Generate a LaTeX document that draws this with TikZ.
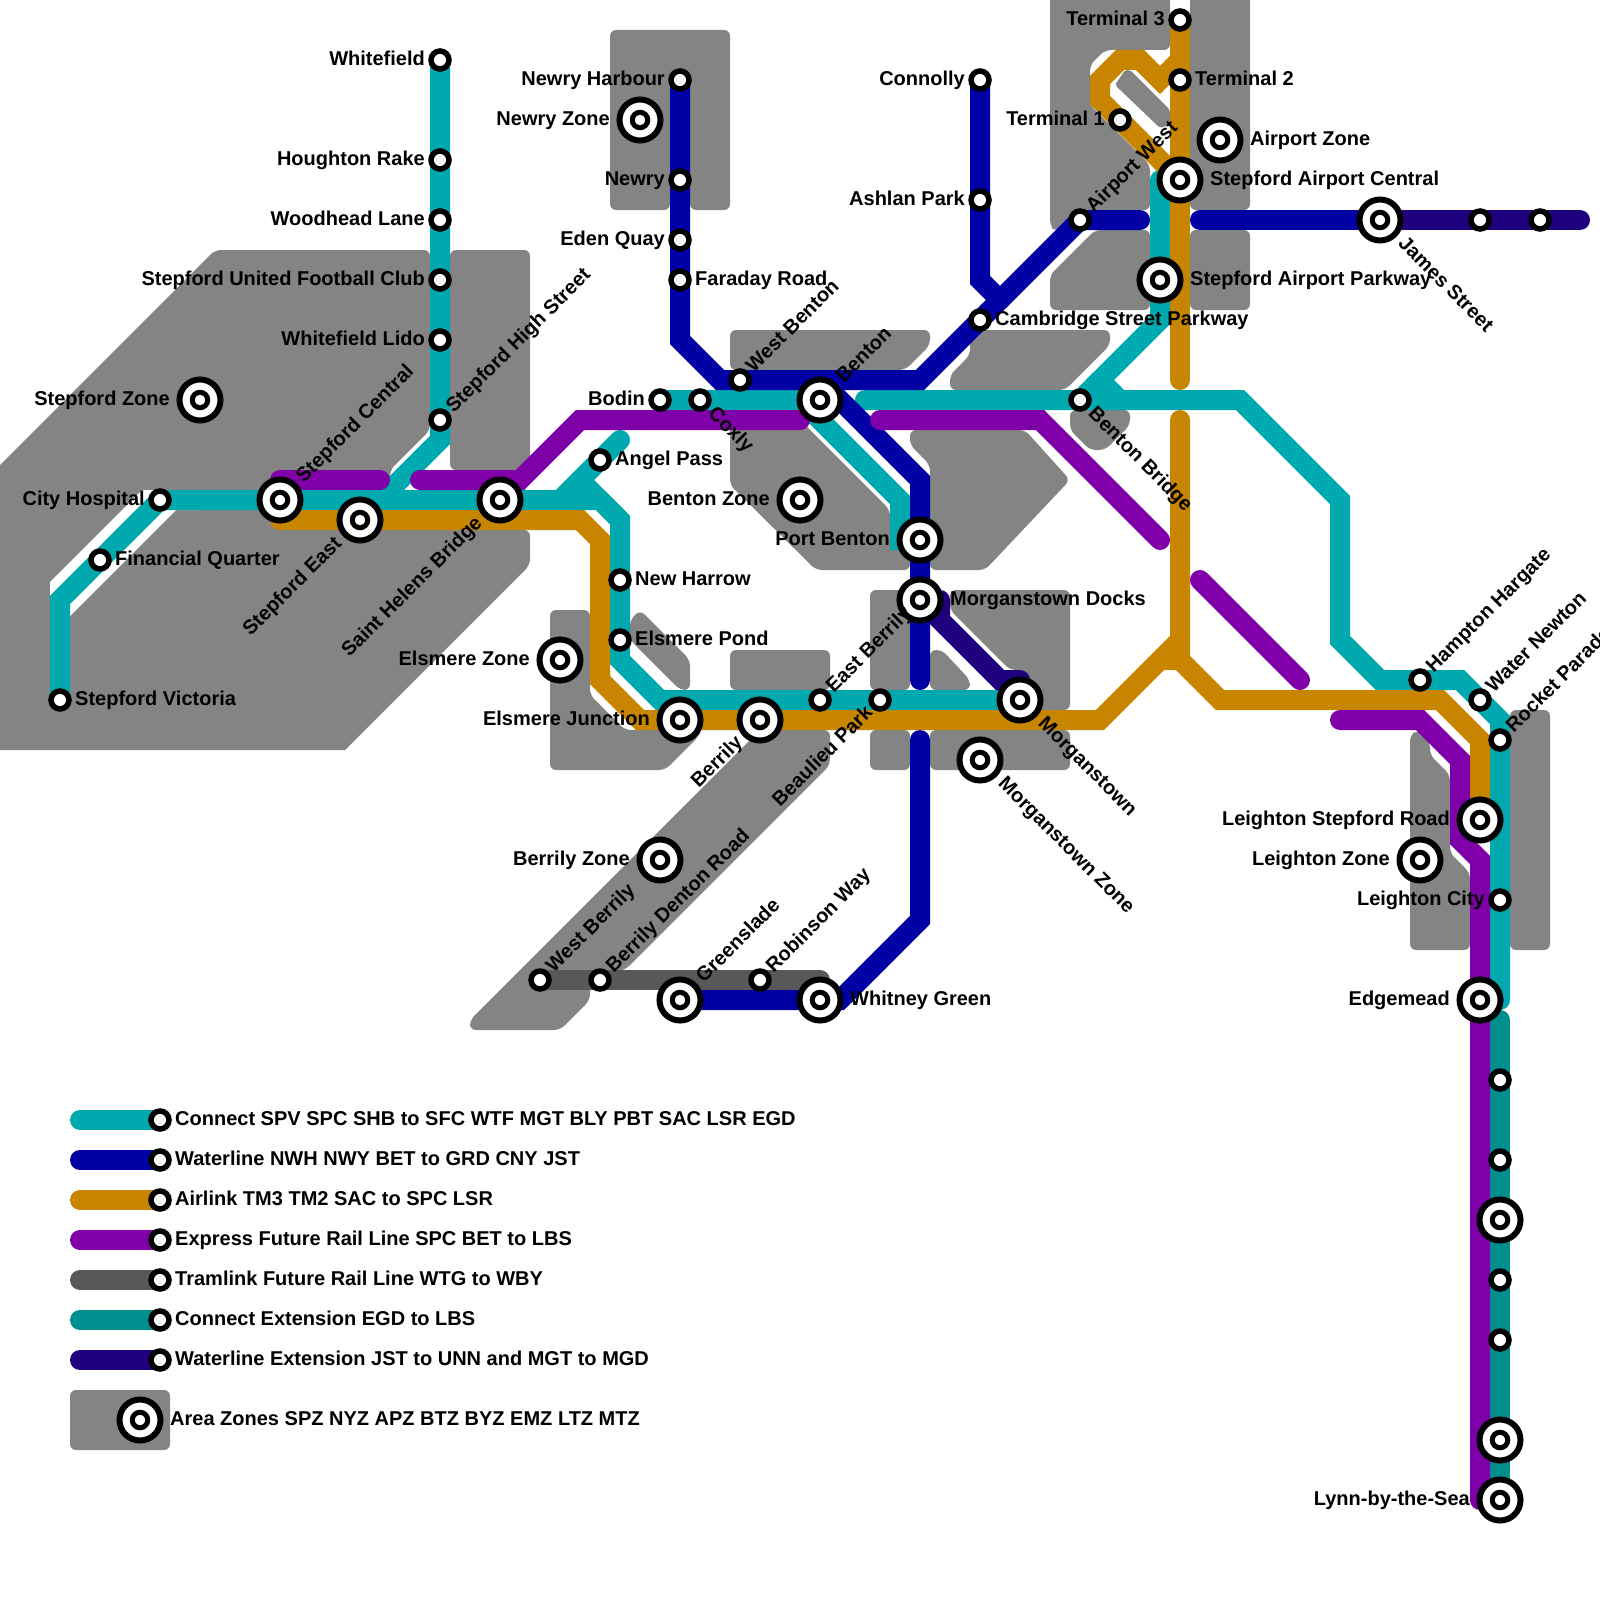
\documentclass[tikz,border=0pt]{standalone}
\usepackage{fontspec}
\setmainfont{Liberation Sans}
\definecolor{cTeal}{HTML}{00A9AD}
\definecolor{cBlue}{HTML}{0000A5}
\definecolor{cOrange}{HTML}{C78500}
\definecolor{cPurple}{HTML}{7F00A8}
\definecolor{cTram}{HTML}{585858}
\definecolor{cExt}{HTML}{008F8F}
\definecolor{cDark}{HTML}{1F007F}
\definecolor{cZone}{HTML}{848484}
\pgfdeclarelayer{zones}
\pgfdeclarelayer{lines}
\pgfsetlayers{zones,lines,main}
\tikzset{
  stsmall/.style={circle,draw=black,fill=white,line width=5.5pt,minimum size=18pt,inner sep=0pt},
  stbig/.style={circle,draw=black,fill=white,line width=6pt,minimum size=41pt,inner sep=0pt},
  stinner/.style={circle,draw=black,fill=white,line width=5pt,minimum size=15.5pt,inner sep=0pt},
  lab/.style={inner sep=0pt,font=\bfseries\fontsize{20}{24}\selectfont,text height=14.5pt,text depth=4pt},
  metro/.style={line width=20pt,line cap=round,line join=miter,miter limit=10},
  zone/.style={fill=cZone,rounded corners=6pt},
  zonesharp/.style={fill=cZone,rounded corners=2pt},
}
\newcommand\stS[3]{\node[stsmall] (#1) at (#2,#3) {};}
\newcommand\stB[3]{\node[stbig] (#1) at (#2,#3) {};\node[stinner] (#1-in) at (#1.center) {};}
% labels: name, text, offset
\newcommand\LL[3]{\node[lab,anchor=east] (#1-t) at ([xshift=-#3pt]#1.center) {#2};}
\newcommand\LR[3]{\node[lab,anchor=west] (#1-t) at ([xshift=#3pt]#1.center) {#2};}
\newcommand\LUR[3]{\node[lab,anchor=west,rotate=45] (#1-t) at ([xshift=#3pt,yshift=#3pt]#1.center) {#2};}
\newcommand\LDR[3]{\node[lab,anchor=west,rotate=-45] (#1-t) at ([xshift=#3pt,yshift=-#3pt]#1.center) {#2};}
\newcommand\LDL[3]{\node[lab,anchor=east,rotate=45] (#1-t) at ([xshift=-#3pt,yshift=-#3pt]#1.center) {#2};}
\begin{document}
\begin{tikzpicture}[x=1pt,y=-1pt]
\useasboundingbox (0,0) rectangle (1600,1600);
% ---------- stations
\stS{wtf}{440}{60}\stS{hrk}{440}{160}\stS{wdl}{440}{220}\stS{sfc}{440}{280}\stS{wfl}{440}{340}\stS{shb}{440}{420}
\stB{spz}{200}{400}\stS{cth}{160}{500}\stS{fnq}{100}{560}\stS{spv}{60}{700}
\stB{spc}{280}{500}\stB{spe}{360}{520}\stB{shl}{500}{500}
\stS{nwh}{680}{80}\stB{nyz}{640}{120}\stS{nwy}{680}{180}\stS{edq}{680}{240}\stS{frd}{680}{280}
\stS{bdn}{660}{400}\stS{cxl}{700}{400}\stS{wbt}{740}{380}\stB{bet}{820}{400}
\stS{anp}{600}{460}\stS{nhr}{620}{580}\stS{epd}{620}{640}\stB{emz}{560}{660}\stB{emj}{680}{720}\stB{bly}{760}{720}
\stS{ebl}{820}{700}\stS{bpk}{880}{700}\stB{mgt}{1020}{700}\stB{mtz}{980}{760}
\stB{btz}{800}{500}\stB{pbt}{920}{540}\stB{mgd}{920}{600}
\stB{byz}{660}{860}\stS{wby}{540}{980}\stS{bdr}{600}{980}\stB{grd}{680}{1000}\stS{rbw}{760}{980}\stB{wtg}{820}{1000}
\stS{cny}{980}{80}\stS{asp}{980}{200}\stS{csp}{980}{320}\stS{bbr}{1080}{400}\stS{awt}{1080}{220}
\stS{tm3}{1180}{20}\stS{tm2}{1180}{80}\stS{tm1}{1120}{120}\stB{apz}{1220}{140}\stB{sac}{1180}{180}\stB{sap}{1160}{280}
\stB{jst}{1380}{220}\stS{ex1}{1480}{220}\stS{unn}{1540}{220}
\stS{hhg}{1420}{680}\stS{wnt}{1480}{700}\stS{rkp}{1500}{740}\stB{lsr}{1480}{820}\stB{ltz}{1420}{860}\stS{lct}{1500}{900}\stB{egd}{1480}{1000}
\stS{ex2}{1500}{1080}\stS{ex3}{1500}{1160}\stB{ex4}{1500}{1220}\stS{ex5}{1500}{1280}\stS{ex6}{1500}{1340}\stB{ex7}{1500}{1440}\stB{lbs}{1500}{1500}
\stS{k1}{160}{1120}\stS{k2}{160}{1160}\stS{k3}{160}{1200}\stS{k4}{160}{1240}\stS{k5}{160}{1280}\stS{k6}{160}{1320}\stS{k7}{160}{1360}
\stB{k8}{140}{1420}
\coordinate (k1a) at (80,1120);\coordinate (k2a) at (80,1160);\coordinate (k3a) at (80,1200);\coordinate (k4a) at (80,1240);
\coordinate (k5a) at (80,1280);\coordinate (k6a) at (80,1320);\coordinate (k7a) at (80,1360);
% ---------- labels
\LL{wtf}{Whitefield}{15}\LL{hrk}{Houghton Rake}{15}\LL{wdl}{Woodhead Lane}{15}\LL{sfc}{Stepford United Football Club}{15}\LL{wfl}{Whitefield Lido}{15}
\LUR{shb}{Stepford High Street}{10}
\LL{spz}{Stepford Zone}{30}\LL{cth}{City Hospital}{15}\LR{fnq}{Financial Quarter}{15}\LR{spv}{Stepford Victoria}{15}
\LUR{spc}{Stepford Central}{20}\LDL{spe}{Stepford East}{21}\LDL{shl}{Saint Helens Bridge}{20.5}
\LL{nwh}{Newry Harbour}{15}\LL{nyz}{Newry Zone}{30}\LL{nwy}{Newry}{15}\LL{edq}{Eden Quay}{15}\LR{frd}{Faraday Road}{15}
\LL{bdn}{Bodin}{15}\LDR{cxl}{Coxly}{11}\LUR{wbt}{West Benton}{10}\LUR{bet}{Benton}{20}
\LR{anp}{Angel Pass}{15}\LR{nhr}{New Harrow}{15}\LR{epd}{Elsmere Pond}{15}\LL{emz}{Elsmere Zone}{30}\LL{emj}{Elsmere Junction}{30}\LDL{bly}{Berrily}{20}
\LUR{ebl}{East Berrily}{10}\LDL{bpk}{Beaulieu Park}{10}\LDR{mgt}{Morganstown}{21}\LDR{mtz}{Morganstown Zone}{21}
\LL{btz}{Benton Zone}{30}\LL{pbt}{Port Benton}{30}\LR{mgd}{Morganstown Docks}{30}
\LL{byz}{Berrily Zone}{30}\LUR{wby}{West Berrily}{10}\LUR{bdr}{Berrily Denton Road}{10}\LUR{grd}{Greenslade}{20}\LUR{rbw}{Robinson Way}{10}\LR{wtg}{Whitney Green}{30}
\LL{cny}{Connolly}{15}\LL{asp}{Ashlan Park}{15}\LR{csp}{Cambridge Street Parkway}{15}\LDR{bbr}{Benton Bridge}{11}\LUR{awt}{Airport West}{10}
\LL{tm3}{Terminal 3}{15}\LR{tm2}{Terminal 2}{15}\LL{tm1}{Terminal 1}{15}\LR{apz}{Airport Zone}{30}\LR{sac}{Stepford Airport Central}{30}\LR{sap}{Stepford Airport Parkway}{30}
\LDR{jst}{James Street}{21}
\LUR{hhg}{Hampton Hargate}{10}\LUR{wnt}{Water Newton}{10}\LUR{rkp}{Rocket Parade}{10}\LL{lsr}{Leighton Stepford Road}{30}\LL{ltz}{Leighton Zone}{30}\LL{lct}{Leighton City}{15}\LL{egd}{Edgemead}{30}
\LL{lbs}{Lynn-by-the-Sea}{30}
\LR{k1}{Connect SPV SPC SHB to SFC WTF MGT BLY PBT SAC LSR EGD}{15}
\LR{k2}{Waterline NWH NWY BET to GRD CNY JST}{15}
\LR{k3}{Airlink TM3 TM2 SAC to SPC LSR}{15}
\LR{k4}{Express Future Rail Line SPC BET to LBS}{15}
\LR{k5}{Tramlink Future Rail Line WTG to WBY}{15}
\LR{k6}{Connect Extension EGD to LBS}{15}
\LR{k7}{Waterline Extension JST to UNN and MGT to MGD}{15}
\LR{k8}{Area Zones SPZ NYZ APZ BTZ BYZ EMZ LTZ MTZ}{30}
% ---------- zones
\begin{pgfonlayer}{zones}
% Stepford
\fill[zone] (-20,485) -- (215,250) -- (430,250) -- (430,430) -- (390,470) -- (390,530) -- (530,530) -- (530,565) -- (400,695) [sharp corners] -- (345,750) -- (-20,750) -- cycle;
\fill[white] (142,490) -- (50,582) -- (50,610) -- (70,616) -- (176,510) -- (200,510) -- (200,490) -- cycle;
\fill[zone] (450,250) rectangle (530,470);
% Newry
\fill[zone] (610,30) -- (730,30) -- (730,210) -- (690,210) -- (690,190) -- (670,190) -- (670,210) -- (610,210) -- cycle;
% Benton
\fill[zone] (730,330) -- (930,330) -- (930,345) -- (905,370) -- (730,370) -- cycle;
\fill[zone] (730,420) -- (800,420) -- (890,510) -- (890,545) -- (910,545) -- (910,570) -- (816,570) -- (730,485) -- cycle;
\fill[zone] (910,430) -- (1025,430) -- (1070,480) -- (985,570) -- (930,570) -- (930,465) -- (910,445) -- cycle;
\fill[zone] (970,330) -- (1110,330) -- (1110,345) -- (1065,390) -- (950,390) -- (950,375) -- (970,355) -- cycle;
\fill[zone] (1070,410) -- (1130,410) -- (1130,425) -- (1105,450) -- (1090,450) -- (1070,430) -- cycle;
% Morganstown
\fill[zone] (870,590) -- (910,590) -- (910,690) -- (870,690) -- cycle;
\fill[zone] (950,590) -- (1070,590) -- (1070,710) -- (1020,710) -- (1020,670) -- (1010,670) -- (950,610) -- cycle;
\fill[zone] (930,650) -- (942,650) -- (970,680) -- (970,690) -- (930,690) -- cycle;
\fill[zone] (870,730) -- (910,730) -- (910,770) -- (870,770) -- cycle;
\fill[zone] (930,730) -- (1070,730) -- (1070,770) -- (930,770) -- cycle;
% Elsmere
\fill[zone] (550,610) -- (590,610) -- (590,695) -- (625,730) -- (700,730) -- (700,735) -- (665,770) -- (550,770) -- cycle;
\fill[zone] (630,620) -- (640,610) -- (690,660) -- (690,690) -- (680,690) -- (630,640) -- cycle;
\fill[zone] (730,650) -- (830,650) -- (830,690) -- (730,690) -- cycle;
% Berrily
\fill[zone] (470,1020) -- (760,730) -- (830,730) -- (830,765) -- (625,970) -- (590,975) -- (590,1000) -- (560,1030) -- (470,1030) -- cycle;
% Airport
\fill[zone] (1050,-10) -- (1170,-10) -- (1170,50) -- (1105,50) -- (1090,65) -- (1090,105) -- (1150,165) -- (1150,210) -- (1085,210) -- (1055,232) -- (1050,225) -- cycle;
\fill[zonesharp] (1115,85) -- (1125,70) -- (1130,70) -- (1170,110) -- (1170,125) -- (1160,128) -- cycle;
\fill[zone] (1190,-10) -- (1250,-10) -- (1250,210) -- (1190,210) -- cycle;
\fill[zone] (1095,230) -- (1150,230) -- (1150,310) -- (1050,310) -- (1050,275) -- cycle;
\fill[zone] (1190,230) -- (1250,230) -- (1250,310) -- (1190,310) -- cycle;
% Leighton
\fill[zone] (1410,735) -- (1418,730) -- (1430,742) -- (1430,755) -- (1450,775) -- (1450,853) -- (1470,873) -- (1470,950) -- (1410,950) -- cycle;
\fill[zone] (1510,710) -- (1550,710) -- (1550,950) -- (1510,950) -- cycle;
% key
\fill[zone] (70,1390) -- (170,1390) -- (170,1450) -- (70,1450) -- cycle;
\end{pgfonlayer}
% ---------- lines
\begin{pgfonlayer}{lines}
% Connect
\draw[metro,cTeal] (spv.center) -- (60,600) -- (cth.center) -- (spc.center) -- (shl.center) -- (600,500) -- (620,520) -- (nhr.center) -- (epd.center) -- (620,660) -- (660,700) -- (ebl.center) -- (bpk.center) -- (mgt.center);
\draw[metro,cTeal] (wtf.center) -- (shb.center) -- (440,440) -- (380,500);
\draw[metro,cTeal] (560,500) -- (anp.center) -- (620,440);
\draw[metro,cTeal] (580,480) -- (620,520);
\draw[metro,cTeal] (bdn.center) -- (bet.center);
\draw[metro,cTeal] (800,400) -- (900,500) -- (900,540) -- (pbt.center);
\draw[metro,cTeal] (865,400) -- (bbr.center) -- (1240,400) -- (1340,500) -- (1340,640) -- (1380,680) -- (hhg.center) -- (1460,680) -- (1500,720) -- (lct.center) -- (1500,1000);
\draw[metro,cTeal] (1160,180) -- (sap.center) -- (1160,320) -- (1100,380) -- (1120,400);
\draw[metro,cTeal] (1100,380) -- (bbr.center);
% Connect extension
\draw[metro,cExt] (1500,1020) -- (lbs.center);
% Waterline
\draw[metro,cBlue] (nwh.center) -- (frd.center) -- (680,340) -- (720,380) -- (920,380) -- (csp.center) -- (awt.center) -- (1140,220);
\draw[metro,cBlue] (cny.center) -- (980,280) -- (1000,300);
\draw[metro,cBlue] (bet.center) -- (840,400) -- (920,480) -- (pbt.center) -- (mgd.center) -- (920,680);
\draw[metro,cBlue] (920,740) -- (920,920) -- (840,1000) -- (wtg.center) -- (grd.center);
\draw[metro,cBlue] (1200,220) -- (jst.center);
% Airlink
\draw[metro,cOrange] (spc.center |- spe.center) -- (580,520) -- (600,540) -- (600,680) -- (640,720) -- (1100,720) -- (1180,640);
\fill[cOrange] (1164,670) -- (1178,670) -- (1180,640) -- cycle;
\draw[metro,cOrange] (tm3.center) -- (1180,380);
\draw[metro,cOrange] (1180,60) -- (1160,80) -- (1140,60) -- (1120,60) -- (1100,80) -- (1100,100) -- (tm1.center) -- (sac.center);
\draw[metro,cOrange] (1180,420) -- (1180,660) -- (1220,700) -- (1440,700) -- (1480,740) -- (lsr.center);
% Express
\draw[metro,cPurple] (280,480) -- (380,480);
\draw[metro,cPurple] (420,480) -- (520,480) -- (580,420) -- (800,420);
\draw[metro,cPurple] (880,420) -- (1040,420) -- (1160,540);
\draw[metro,cPurple] (1200,580) -- (1300,680);
\draw[metro,cPurple] (1340,720) -- (1420,720) -- (1460,760) -- (1460,840) -- (1480,860) -- (lbs.center -| egd.center);
% Tramlink
\draw[metro,cTram,line join=round] (wby.center) -- (820,980) -- (wtg.center);
% Waterline extension
\draw[metro,cDark] (jst.center) -- (1580,220);
\draw[metro,cDark] (940,600) -- (940,620) -- (1000,680) -- (1020,680);
% Key
\draw[metro,cTeal] (k1a) -- (k1.center);
\draw[metro,cBlue] (k2a) -- (k2.center);
\draw[metro,cOrange] (k3a) -- (k3.center);
\draw[metro,cPurple] (k4a) -- (k4.center);
\draw[metro,cTram] (k5a) -- (k5.center);
\draw[metro,cExt] (k6a) -- (k6.center);
\draw[metro,cDark] (k7a) -- (k7.center);
\end{pgfonlayer}
\end{tikzpicture}
\end{document}
